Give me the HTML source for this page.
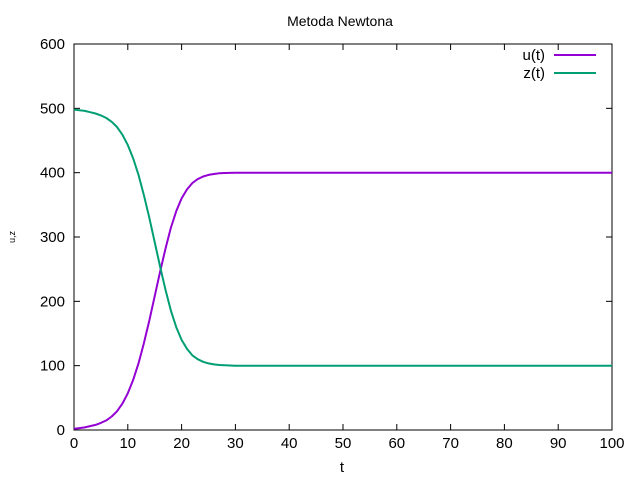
<!DOCTYPE html>
<html><head><meta charset="utf-8"><style>body{margin:0;background:#fff}svg{display:block;font-family:"Liberation Sans",sans-serif}</style></head>
<body>
<svg id="c" width="640" height="480">
<text x="340" y="26" font-size="14" text-anchor="middle">Metoda Newtona</text>
<text x="342" y="472" font-size="15" text-anchor="middle">t</text>
<text x="12" y="240" font-size="9" text-anchor="middle" transform="rotate(-90 12 237)">u,z</text>
<g id="axes"></g><g id="series"></g>
<g>
<text x="545" y="60" font-size="15" text-anchor="end">u(t)</text>
<line x1="554" y1="55" x2="596" y2="55" stroke="#9400d3" stroke-width="2"/>
<text x="545" y="78" font-size="15" text-anchor="end">z(t)</text>
<line x1="554" y1="73" x2="596" y2="73" stroke="#009e73" stroke-width="2"/>
</g>
</svg>
<script>
const tVals=[0,1,2,3,4,5,6,7,8,9,10,11,12,13,14,15,16,17,18,19,20,21,22,23,24,25,26,27,28,30,35,100];
const uVals=[2,3,4,6,8,11,15,21,29,41,57,78,104,135,170,208,246,282,314,340,360,374,384,390,394,396.5,398,399,399.5,400,400,400];
const zVals=[498,497,496,494,492,489,485,479,471,459,443,422,396,365,330,292,254,218,186,160,140,126,116,110,106,103.5,102,101,100.5,100,100,100];
const xTicks=[0,10,20,30,40,50,60,70,80,90,100];
const yTicks=[0,100,200,300,400,500,600];
const X0=74,X1=612,Y0=430,Y1=44;
const sx=v=>X0+(v-0)/100*(X1-X0), sy=v=>Y0-(v/600)*(Y0-Y1);
const NS="http://www.w3.org/2000/svg";
const ax=document.getElementById('axes'), se=document.getElementById('series');
function mk(tag,at,p){const e=document.createElementNS(NS,tag);for(const k in at)e.setAttribute(k,at[k]);p.appendChild(e);return e;}
const fr=mk('rect',{x:X0,y:Y1,width:X1-X0,height:Y0-Y1,fill:'none',stroke:'#000','stroke-width':1},ax);


xTicks.forEach(v=>{const x=sx(v);
 mk('line',{x1:x,y1:Y0,x2:x,y2:Y0-6,stroke:'#000'},ax);mk('line',{x1:x,y1:Y1,x2:x,y2:Y1+6,stroke:'#000'},ax);
 const t=mk('text',{x:x,y:Y0+18,'font-size':15,'text-anchor':'middle'},ax);t.textContent=v;
 
 });
yTicks.forEach(v=>{const y=sy(v);
 mk('line',{x1:X0,y1:y,x2:X0+6,y2:y,stroke:'#000'},ax);mk('line',{x1:X1,y1:y,x2:X1-6,y2:y,stroke:'#000'},ax);
 const t=mk('text',{x:X0-9,y:y+5,'font-size':15,'text-anchor':'end'},ax);t.textContent=v;
 
 });
function line(vals,col,name){const d=tVals.map((t,i)=>(i?'L':'M')+sx(t).toFixed(1)+','+sy(vals[i]).toFixed(1)).join('');
 const p=mk('path',{d:d,fill:'none',stroke:col,'stroke-width':2,'stroke-linejoin':'round'},se);
 
 }
line(uVals,'#9400d3','series-u');
line(zVals,'#009e73','series-z');
</script>
</body></html>
